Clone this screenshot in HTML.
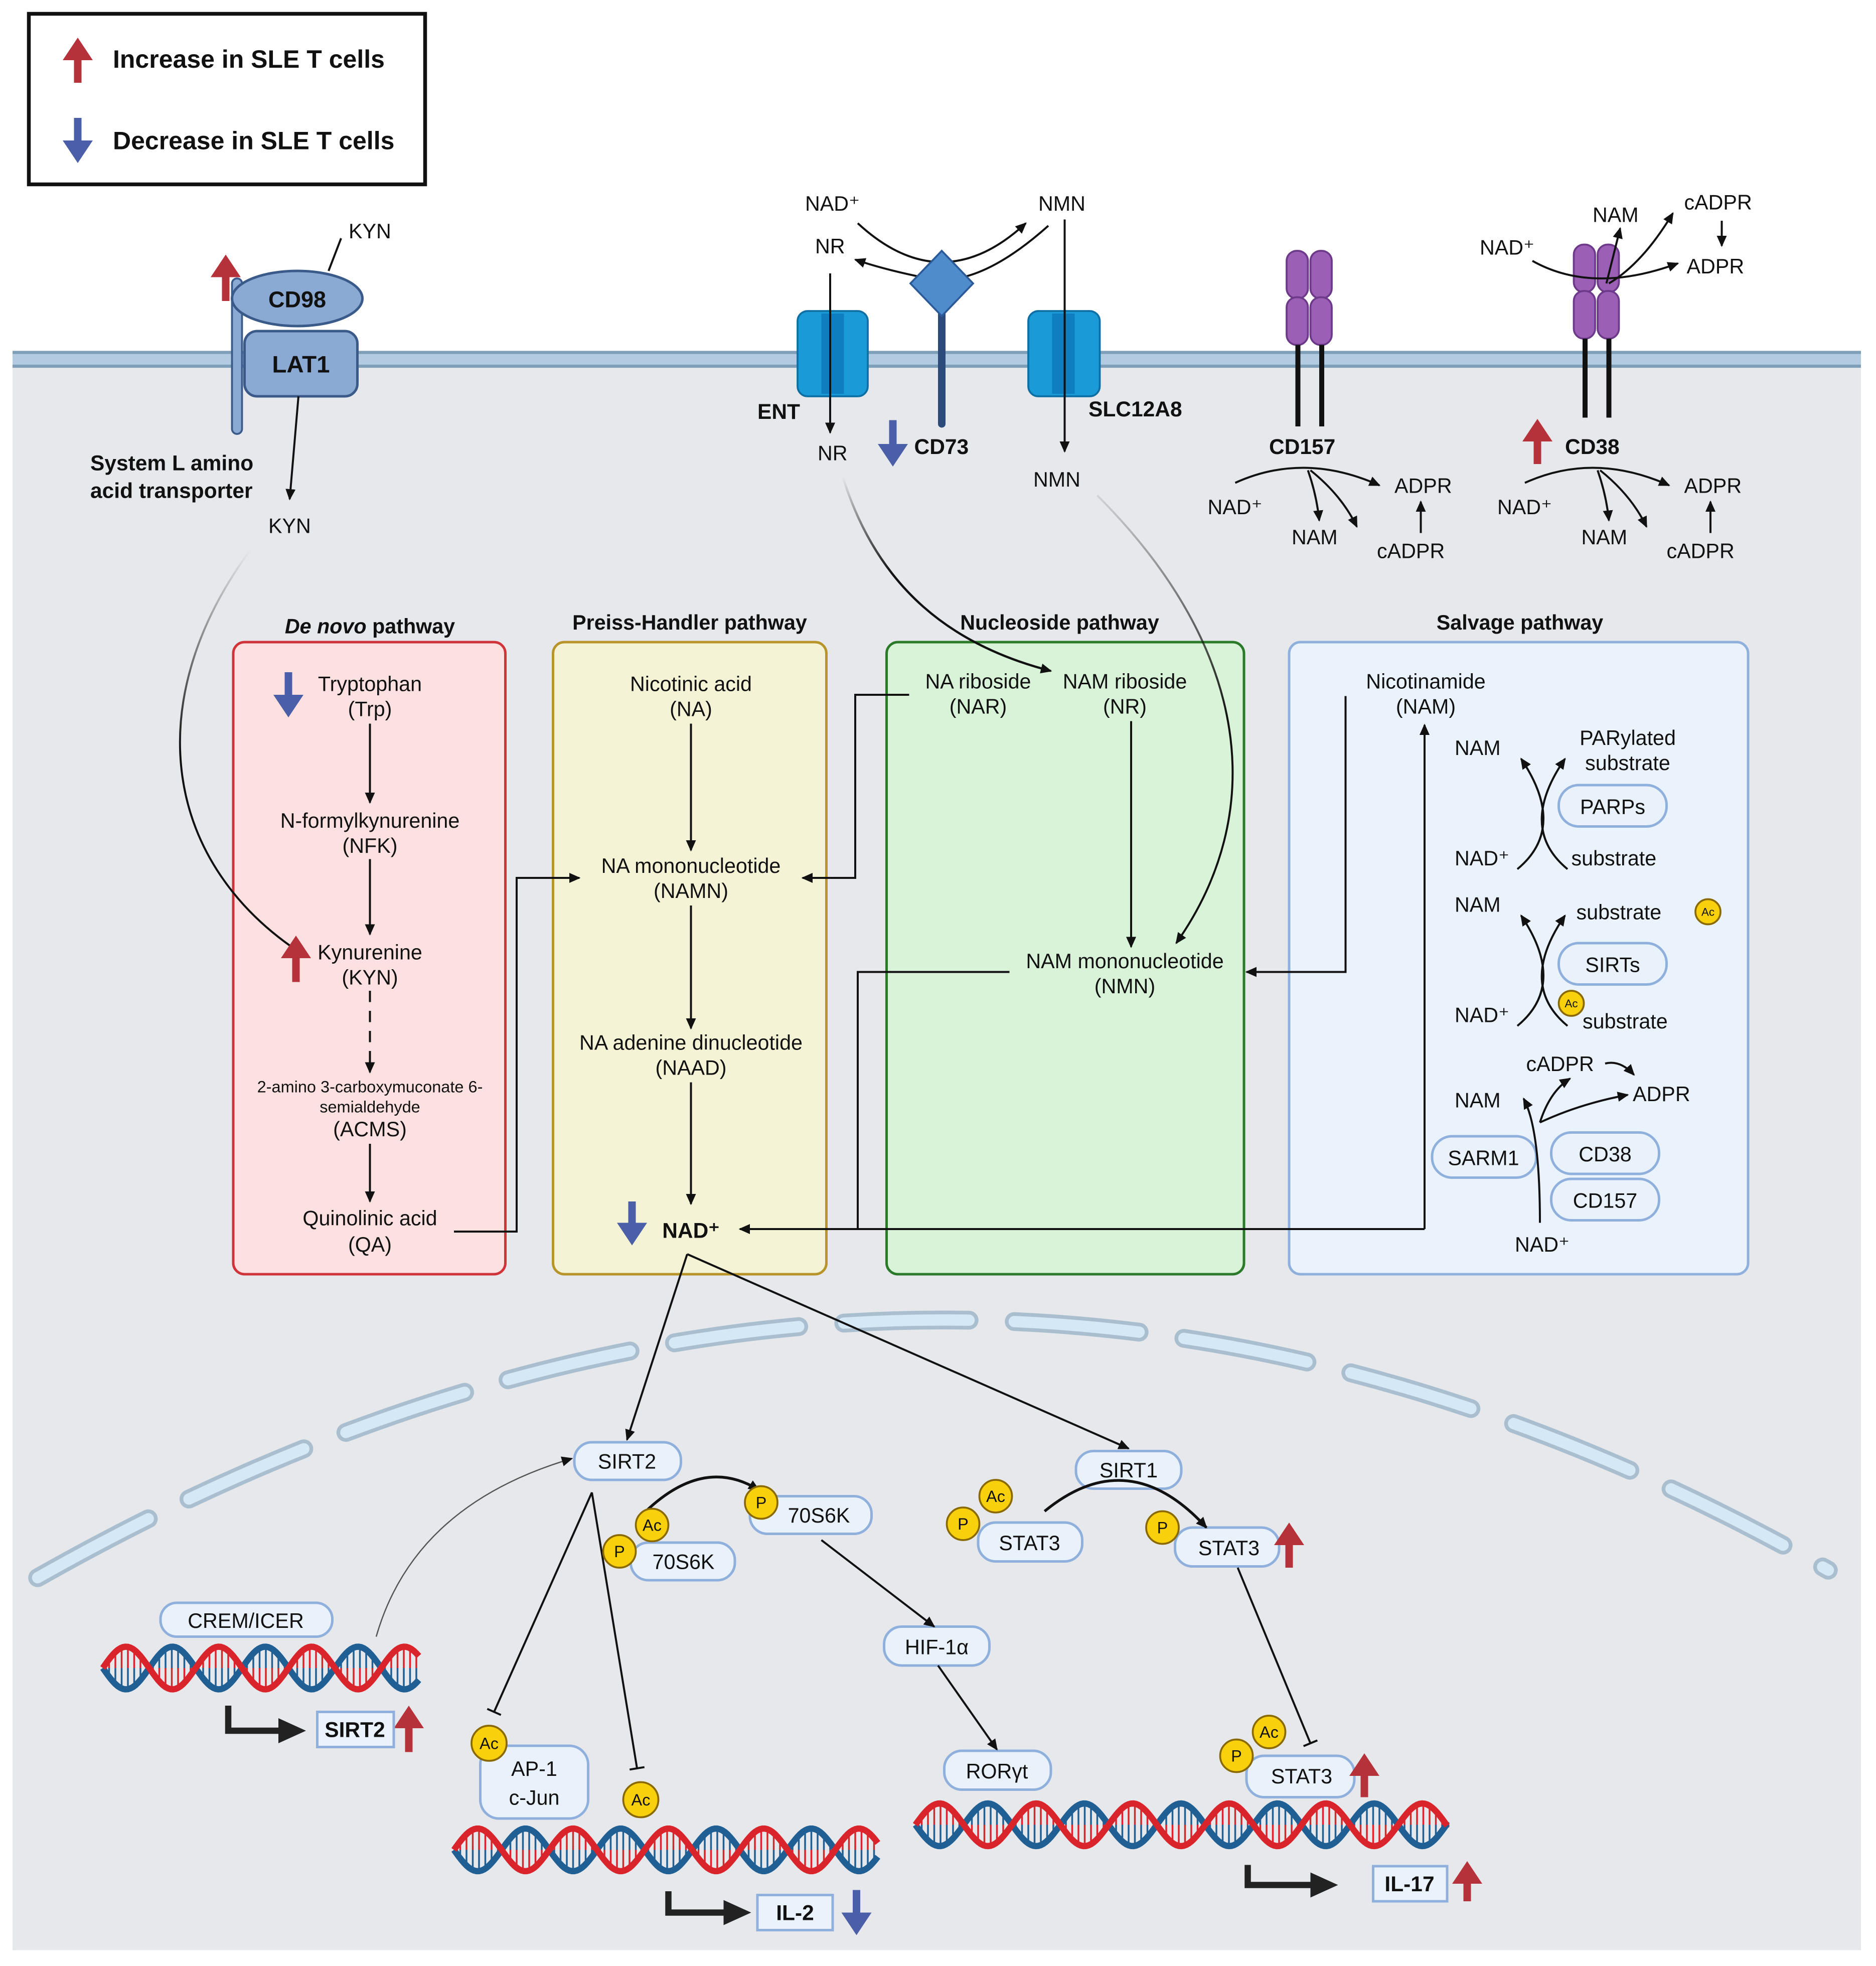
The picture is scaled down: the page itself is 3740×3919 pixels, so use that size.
<!DOCTYPE html>
<html><head><meta charset="utf-8"><style>
html,body{margin:0;padding:0;background:#fff}
svg{display:block}
text{font-family:"Liberation Sans",sans-serif;fill:#111}
.t{font-size:16.5px}
.c{text-anchor:middle}
.b{font-weight:bold}
.h{font-size:16.5px;font-weight:bold;text-anchor:middle}
.ln{stroke:#111;stroke-width:1.6;fill:none}
.pill{fill:#e9f1fb;stroke:#8fb0dc;stroke-width:2}
</style></head><body>
<svg id="s" width="3740" height="3919" viewBox="0 0 1496 1567.6" xmlns="http://www.w3.org/2000/svg">
<defs>
<marker id="a" markerWidth="10" markerHeight="10" refX="8" refY="5" orient="auto" markerUnits="userSpaceOnUse"><path d="M0,1 L9,5 L0,9 Z" fill="#111"/></marker>
<marker id="tee" markerWidth="12" markerHeight="12" refX="6" refY="6" orient="auto" markerUnits="userSpaceOnUse"><path d="M6,0 L6,12" stroke="#111" stroke-width="1.6"/></marker>
<linearGradient id="gk" x1="0" y1="0" x2="0" y2="1"><stop offset="0" stop-color="#111" stop-opacity="0"/><stop offset="0.5" stop-color="#111"/></linearGradient>
<linearGradient id="gn" x1="0" y1="0" x2="0" y2="1"><stop offset="0" stop-color="#111" stop-opacity="0.1"/><stop offset="0.5" stop-color="#111"/></linearGradient>
</defs>
<rect x="0" y="0" width="1496" height="1567.6" fill="#fff"/>
<rect x="10" y="287" width="1474" height="1268" fill="#e6e8eb"/>
<rect x="10" y="280" width="1474" height="13" fill="#b3cbe0"/>
<line x1="10" y1="281" x2="1484" y2="281" stroke="#7f9fb8" stroke-width="2.5"/>
<line x1="10" y1="292" x2="1484" y2="292" stroke="#7f9fb8" stroke-width="2.5"/>

<!-- legend -->
<rect x="23" y="11" width="316" height="136" fill="#fff" stroke="#111" stroke-width="3"/>
<text x="90" y="54" class="b" font-size="20">Increase in SLE T cells</text>
<text x="90" y="119" class="b" font-size="20">Decrease in SLE T cells</text>

<!-- nuclear envelope -->
<path d="M30,1258 Q750,850 1458,1252" fill="none" stroke="#a9bfcf" stroke-width="15" stroke-dasharray="100 36" stroke-linecap="round"/>
<path d="M30,1258 Q750,850 1458,1252" fill="none" stroke="#d5e8f6" stroke-width="9" stroke-dasharray="100 36" stroke-linecap="round"/>

<!-- CD98 LAT1 -->
<rect x="185" y="222" width="8" height="124" rx="4" fill="#8aa9d3" stroke="#3a5a8a" stroke-width="1.5"/>
<rect x="195" y="264" width="90" height="52" rx="10" fill="#8aa9d3" stroke="#3a5a8a" stroke-width="2"/>
<ellipse cx="237" cy="238" rx="52" ry="22" fill="#8aa9d3" stroke="#3a5a8a" stroke-width="2"/>
<text x="237" y="245" class="c b" font-size="18">CD98</text>
<text x="240" y="297" class="c b" font-size="19">LAT1</text>
<path class="ln" d="M262,216 L272,190"/>
<text x="278" y="190" class="t">KYN</text>
<path class="ln" d="M238,316 L231,398" marker-end="url(#a)"/>
<text x="72" y="375" class="b" font-size="17">System L amino</text>
<text x="72" y="397" class="b" font-size="17">acid transporter</text>
<text x="214" y="425" class="t">KYN</text>

<!-- CD73 / ENT / SLC -->
<text x="642" y="168" class="t">NAD⁺</text>
<text x="828" y="168" class="t">NMN</text>
<text x="650" y="202" class="t">NR</text>
<path class="ln" d="M684,178 Q751,240 818,178" marker-end="url(#a)"/>
<path class="ln" d="M836,180 Q780,230 740,222 Q705,215 682,207" marker-end="url(#a)"/>
<rect x="636" y="248" width="56" height="68" rx="8" fill="#1a9ad6" stroke="#0d6fa3" stroke-width="1.5"/>
<rect x="655" y="250" width="18" height="64" fill="#0f7ec0"/>
<rect x="820" y="248" width="57" height="68" rx="8" fill="#1a9ad6" stroke="#0d6fa3" stroke-width="1.5"/>
<rect x="839" y="250" width="18" height="64" fill="#0f7ec0"/>
<line x1="751" y1="245" x2="751" y2="338" stroke="#2c4a7a" stroke-width="6" stroke-linecap="round"/>
<path d="M751,200 L776,226 L751,252 L726,226 Z" fill="#4f8ccb" stroke="#2c5a99" stroke-width="1.5"/>
<path class="ln" d="M662,218 L662,345" marker-end="url(#a)"/>
<text x="652" y="367" class="t">NR</text>
<text x="604" y="334" class="b" font-size="17">ENT</text>
<text x="729" y="362" class="b" font-size="17">CD73</text>
<path class="ln" d="M849,175 L849,360" marker-end="url(#a)"/>
<text x="824" y="388" class="t">NMN</text>
<text x="868" y="332" class="b" font-size="17">SLC12A8</text>

<!-- CD157 -->
<g fill="#9b5fb5" stroke="#6d3a8a" stroke-width="1.5">
<rect x="1026" y="200" width="17" height="38" rx="8"/><rect x="1045" y="200" width="17" height="38" rx="8"/>
<rect x="1026" y="237" width="17" height="38" rx="8"/><rect x="1045" y="237" width="17" height="38" rx="8"/>
<rect x="1255" y="195" width="17" height="38" rx="8"/><rect x="1274" y="195" width="17" height="38" rx="8"/>
<rect x="1255" y="232" width="17" height="38" rx="8"/><rect x="1274" y="232" width="17" height="38" rx="8"/>
</g>
<g stroke="#111" stroke-width="4"><line x1="1035" y1="275" x2="1035" y2="340"/><line x1="1054" y1="275" x2="1054" y2="340"/>
<line x1="1264" y1="270" x2="1264" y2="333"/><line x1="1283" y1="270" x2="1283" y2="333"/></g>
<text x="1012" y="362" class="b" font-size="17">CD157</text>
<text x="1248" y="362" class="b" font-size="17">CD38</text>
<g id="rx">
<path class="ln" d="M985,385 Q1040,360 1100,387" marker-end="url(#a)"/>
<path class="ln" d="M1043,375 Q1050,395 1052,415" marker-end="url(#a)"/>
<path class="ln" d="M1045,375 Q1070,395 1082,420" marker-end="url(#a)"/>
<path class="ln" d="M1133,425 L1133,400" marker-end="url(#a)"/>
<text x="963" y="410" class="t">NAD⁺</text>
<text x="1030" y="434" class="t">NAM</text>
<text x="1112" y="393" class="t">ADPR</text>
<text x="1098" y="445" class="t">cADPR</text>
</g>
<use href="#rx" x="231" y="0"/>
<text x="1180" y="203" class="t">NAD⁺</text>
<text x="1270" y="177" class="t">NAM</text>
<text x="1343" y="167" class="t">cADPR</text>
<text x="1345" y="218" class="t">ADPR</text>
<path class="ln" d="M1222,208 Q1270,235 1338,210" marker-end="url(#a)"/>
<path class="ln" d="M1281,226 L1292,182" marker-end="url(#a)"/>
<path class="ln" d="M1283,226 Q1310,210 1334,170" marker-end="url(#a)"/>
<path class="ln" d="M1373,176 L1373,196" marker-end="url(#a)"/>

<!-- pathway boxes -->
<text x="295" y="505" class="h"><tspan font-style="italic">De novo</tspan> pathway</text>
<text x="550" y="502" class="h">Preiss-Handler pathway</text>
<text x="845" y="502" class="h">Nucleoside pathway</text>
<text x="1212" y="502" class="h">Salvage pathway</text>
<rect x="186" y="512" width="217" height="504" rx="9" fill="#fde0e0" stroke="#d0343a" stroke-width="2"/>
<rect x="441" y="512" width="218" height="504" rx="9" fill="#f5f3d6" stroke="#b8952b" stroke-width="2"/>
<rect x="707" y="512" width="285" height="504" rx="9" fill="#d9f3d9" stroke="#2a7a2a" stroke-width="2"/>
<rect x="1028" y="512" width="366" height="504" rx="9" fill="#eaf2fb" stroke="#8fb0dc" stroke-width="2"/>

<!-- long curves on top of boxes -->
<path d="M200,438 C110,560 130,690 243,762" fill="none" stroke="url(#gk)" stroke-width="1.6" marker-end="url(#a)"/>
<path d="M672,380 C700,470 760,515 838,535" fill="none" stroke="url(#gk)" stroke-width="1.8" marker-end="url(#a)"/>
<path d="M875,395 C1000,520 1010,650 938,752" fill="none" stroke="url(#gn)" stroke-width="1.6" marker-end="url(#a)"/>

<g class="t">
<text x="295" y="551" class="c">Tryptophan</text><text x="295" y="571" class="c">(Trp)</text>
<text x="295" y="660" class="c">N-formylkynurenine</text><text x="295" y="680" class="c">(NFK)</text>
<text x="295" y="765" class="c">Kynurenine</text><text x="295" y="785" class="c">(KYN)</text>
<text x="295" y="871" class="c" font-size="13">2-amino 3-carboxymuconate 6-</text>
<text x="295" y="887" class="c" font-size="13">semialdehyde</text>
<text x="295" y="906" class="c">(ACMS)</text>
<text x="295" y="977" class="c">Quinolinic acid</text><text x="295" y="998" class="c">(QA)</text>
<text x="551" y="551" class="c">Nicotinic acid</text><text x="551" y="571" class="c">(NA)</text>
<text x="551" y="696" class="c">NA mononucleotide</text><text x="551" y="716" class="c">(NAMN)</text>
<text x="551" y="837" class="c">NA adenine dinucleotide</text><text x="551" y="857" class="c">(NAAD)</text>
<text x="551" y="987" class="c b" font-size="17">NAD⁺</text>
<text x="780" y="549" class="c">NA riboside</text><text x="780" y="569" class="c">(NAR)</text>
<text x="897" y="549" class="c">NAM riboside</text><text x="897" y="569" class="c">(NR)</text>
<text x="897" y="772" class="c">NAM mononucleotide</text><text x="897" y="792" class="c">(NMN)</text>
<text x="1137" y="549" class="c">Nicotinamide</text><text x="1137" y="569" class="c">(NAM)</text>
<text x="1160" y="602">NAM</text><text x="1298" y="594" class="c">PARylated</text><text x="1298" y="614" class="c">substrate</text>
<text x="1160" y="690">NAD⁺</text><text x="1253" y="690">substrate</text>
<text x="1160" y="727">NAM</text><text x="1257" y="733">substrate</text>
<text x="1160" y="815">NAD⁺</text><text x="1262" y="820">substrate</text>
<text x="1217" y="854">cADPR</text><text x="1302" y="878">ADPR</text>
<text x="1160" y="883">NAM</text>
<text x="1208" y="998">NAD⁺</text>
</g>
<path class="ln" d="M295,577 L295,640" marker-end="url(#a)"/>
<path class="ln" d="M295,685 L295,745" marker-end="url(#a)"/>
<path class="ln" d="M295,790 L295,855" stroke-dasharray="9 7" marker-end="url(#a)"/>
<path class="ln" d="M295,912 L295,958" marker-end="url(#a)"/>
<path class="ln" d="M362,982 L412,982 L412,700 L462,700" marker-end="url(#a)"/>
<path class="ln" d="M551,577 L551,678" marker-end="url(#a)"/>
<path class="ln" d="M551,722 L551,820" marker-end="url(#a)"/>
<path class="ln" d="M551,863 L551,960" marker-end="url(#a)"/>
<path class="ln" d="M725,554 L682,554 L682,700 L640,700" marker-end="url(#a)"/>
<path class="ln" d="M902,575 L902,755" marker-end="url(#a)"/>
<path class="ln" d="M805,775 L684,775 L684,980"/>
<path class="ln" d="M1136,980 L590,980" marker-end="url(#a)"/>
<path class="ln" d="M1136,980 L1136,578" marker-end="url(#a)"/>
<path class="ln" d="M1073,555 L1073,775 L994,775" marker-end="url(#a)"/>

<!-- salvage reactions -->
<rect class="pill" x="1243" y="626" width="86" height="33" rx="16"/><text x="1286" y="649" class="c t">PARPs</text>
<rect class="pill" x="1243" y="752" width="86" height="33" rx="16"/><text x="1286" y="775" class="c t">SIRTs</text>
<rect class="pill" x="1142" y="906" width="83" height="33" rx="16"/><text x="1183" y="929" class="c t">SARM1</text>
<rect class="pill" x="1237" y="903" width="86" height="33" rx="16"/><text x="1280" y="926" class="c t">CD38</text>
<rect class="pill" x="1237" y="940" width="86" height="33" rx="16"/><text x="1280" y="963" class="c t">CD157</text>
<g id="xx">
<path class="ln" d="M1210,693 Q1250,660 1213,605" marker-end="url(#a)"/>
<path class="ln" d="M1250,693 Q1210,660 1248,605" marker-end="url(#a)"/>
</g>
<use href="#xx" x="0" y="125"/>
<path class="ln" d="M1228,975 Q1228,900 1215,876" marker-end="url(#a)"/>
<path class="ln" d="M1228,895 Q1236,870 1252,860" marker-end="url(#a)"/>
<path class="ln" d="M1228,895 Q1260,880 1298,873" marker-end="url(#a)"/>
<path class="ln" d="M1280,848 Q1292,845 1303,857" marker-end="url(#a)"/>

<!-- nucleus -->
<path class="ln" d="M548,1000 L500,1148" marker-end="url(#a)"/>
<path class="ln" d="M548,1000 L900,1155" marker-end="url(#a)"/>
<rect class="pill" x="458" y="1150" width="85" height="30" rx="14"/><text x="500" y="1171" class="c t">SIRT2</text>
<rect class="pill" x="858" y="1157" width="84" height="30" rx="14"/><text x="900" y="1178" class="c t">SIRT1</text>
<rect class="pill" x="598" y="1193" width="97" height="30" rx="14"/><text x="653" y="1214" class="c t">70S6K</text>
<rect class="pill" x="503" y="1230" width="83" height="30" rx="14"/><text x="545" y="1251" class="c t">70S6K</text>
<rect class="pill" x="780" y="1214" width="83" height="31" rx="14"/><text x="821" y="1236" class="c t">STAT3</text>
<rect class="pill" x="937" y="1218" width="83" height="31" rx="14"/><text x="980" y="1240" class="c t">STAT3</text>
<rect class="pill" x="705" y="1297" width="84" height="31" rx="14"/><text x="747" y="1319" class="c t">HIF-1α</text>
<rect class="pill" x="753" y="1396" width="85" height="31" rx="14"/><text x="795" y="1418" class="c t">RORγt</text>
<rect class="pill" x="994" y="1400" width="86" height="33" rx="14"/><text x="1038" y="1422" class="c t">STAT3</text>
<rect class="pill" x="383" y="1392" width="86" height="58" rx="15"/><text x="426" y="1416" class="c t">AP-1</text><text x="426" y="1439" class="c t">c-Jun</text>
<rect class="pill" x="128" y="1278" width="137" height="27" rx="13"/><text x="196" y="1298" class="c t">CREM/ICER</text>
<path d="M512,1208 Q560,1160 605,1188" fill="none" stroke="#111" stroke-width="2.2" marker-end="url(#a)"/>
<path d="M833,1205 Q900,1150 962,1218" fill="none" stroke="#111" stroke-width="2.2" marker-end="url(#a)"/>
<path class="ln" d="M655,1228 L745,1297" marker-end="url(#a)"/>
<path class="ln" d="M748,1328 L795,1395" marker-end="url(#a)"/>
<path class="ln" d="M987,1250 L1045,1390" stroke="#555" marker-end="url(#tee)"/>
<path class="ln" d="M472,1190 L394,1365" marker-end="url(#tee)"/>
<path class="ln" d="M472,1190 L508,1410" marker-end="url(#tee)"/>
<path d="M300,1305 Q330,1200 456,1163" fill="none" stroke="#555" stroke-width="1" marker-end="url(#a)"/>

<g id="dna"></g>
<g id="circ"></g>
<g id="arr"></g>

<path d="M182,1360 L182,1380 L225,1380" fill="none" stroke="#222" stroke-width="5"/><path d="M222,1370 L244,1380 L222,1390 Z" fill="#222"/>
<path d="M533,1508 L533,1525 L580,1525" fill="none" stroke="#222" stroke-width="5"/><path d="M577,1515 L599,1525 L577,1535 Z" fill="#222"/>
<path d="M995,1487 L995,1503 L1048,1503" fill="none" stroke="#222" stroke-width="5"/><path d="M1045,1493 L1067,1503 L1045,1513 Z" fill="#222"/>
<rect x="253" y="1365" width="61" height="28" fill="#eaf2fb" stroke="#8fb0dc" stroke-width="2"/><text x="283" y="1385" class="c b" font-size="17">SIRT2</text>
<rect x="604" y="1511" width="60" height="28" fill="#eaf2fb" stroke="#8fb0dc" stroke-width="2"/><text x="634" y="1531" class="c b" font-size="17">IL-2</text>
<rect x="1095" y="1488" width="59" height="28" fill="#eaf2fb" stroke="#8fb0dc" stroke-width="2"/><text x="1124" y="1508" class="c b" font-size="17">IL-17</text>
</svg>
<script>
var NS="http://www.w3.org/2000/svg";
function el(p,t,a,txt){var e=document.createElementNS(NS,t);for(var k in a)e.setAttribute(k,a[k]);if(txt)e.textContent=txt;document.getElementById(p).appendChild(e);return e;}
function dna(x0,x1,yc,amp,per){
  var b="",r="";
  for(var x=x0;x<=x1;x+=5){var ph=(x-x0)/per*2*Math.PI;var yb=yc+amp*Math.sin(ph),yr=yc-amp*Math.sin(ph);
   el("dna","line",{x1:x,y1:yb,x2:x,y2:yc,stroke:"#1f5f94","stroke-width":1.4});
   el("dna","line",{x1:x,y1:yc,x2:x,y2:yr,stroke:"#d9242b","stroke-width":1.4});}
  for(var x=x0;x<=x1;x+=2){var ph=(x-x0)/per*2*Math.PI;b+=(x==x0?"M":"L")+x+","+(yc+amp*Math.sin(ph));r+=(x==x0?"M":"L")+x+","+(yc-amp*Math.sin(ph));}
  el("dna","path",{d:b,fill:"none",stroke:"#1f5f94","stroke-width":5});
  el("dna","path",{d:r,fill:"none",stroke:"#d9242b","stroke-width":5});
}
dna(82,335,1330,17,74);dna(362,700,1475,17,76);dna(730,1155,1455,17,77);
function c(x,y,r,t,fs){el("circ","circle",{cx:x,cy:y,r:r,fill:"#f8d10c",stroke:"#8a6a00","stroke-width":1.5});el("circ","text",{x:x,y:y+fs*0.35,"text-anchor":"middle","font-size":fs},t);}
c(1362,727,10,"Ac",9);c(1253,800,10,"Ac",9);
c(607,1198,13,"P",13);c(520,1216,13,"Ac",13);c(494,1237,13,"P",13);
c(768,1215,13,"P",13);c(794,1193,13,"Ac",13);c(927,1218,13,"P",13);
c(986,1400,13,"P",13);c(1012,1381,13,"Ac",13);c(390,1390,14,"Ac",13);c(511,1435,14,"Ac",13);
function up(x,y1,y2,col){var w=6,hw=12,hh=18;el("arr","path",{d:"M"+(x-w/2)+","+y2+" L"+(x-w/2)+","+(y1+hh)+" L"+(x-hw)+","+(y1+hh)+" L"+x+","+y1+" L"+(x+hw)+","+(y1+hh)+" L"+(x+w/2)+","+(y1+hh)+" L"+(x+w/2)+","+y2+" Z",fill:col});}
function dn(x,y1,y2,col){var w=6,hw=12,hh=18;el("arr","path",{d:"M"+(x-w/2)+","+y1+" L"+(x-w/2)+","+(y2-hh)+" L"+(x-hw)+","+(y2-hh)+" L"+x+","+y2+" L"+(x+hw)+","+(y2-hh)+" L"+(x+w/2)+","+(y2-hh)+" L"+(x+w/2)+","+y1+" Z",fill:col});}
var R="#b5323a",B="#4a5fa8";
up(62,30,66,R);dn(62,94,130,B);up(180,203,240,R);dn(712,335,372,B);up(1226,334,370,R);
dn(230,536,572,B);up(236,746,783,R);dn(504,958,993,B);
up(1028,1214,1250,R);up(1088,1398,1433,R);up(326,1360,1397,R);dn(683,1507,1543,B);up(1170,1484,1516,R);
</script>
</body></html>
